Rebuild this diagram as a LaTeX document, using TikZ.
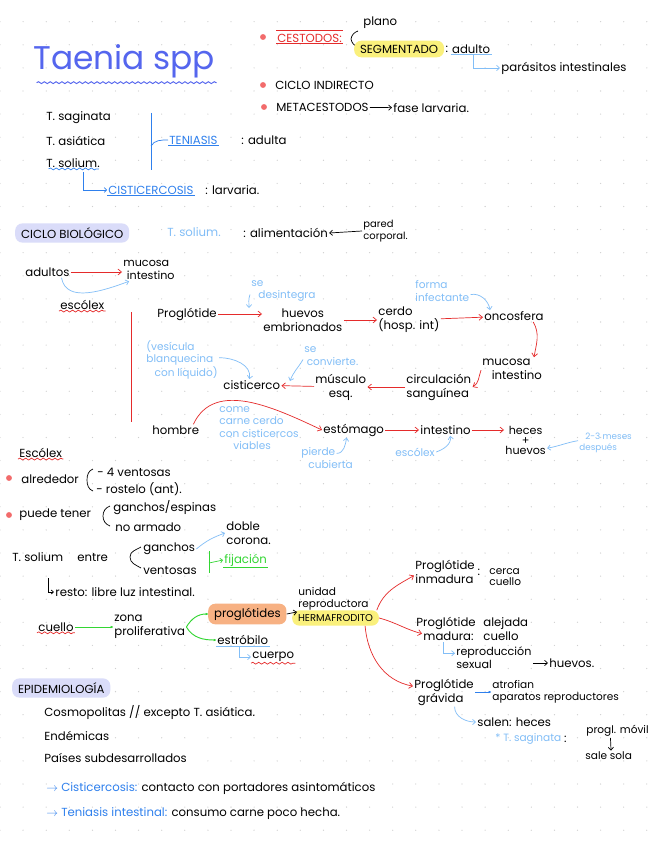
\documentclass[tikz,border=0pt]{standalone}
\usepackage{fontspec}
\setmainfont{Poppins}
\usetikzlibrary{positioning, arrows.meta, decorations.pathmorphing}
\definecolor{inkred}{HTML}{E52B2B}
\definecolor{bulletred}{HTML}{F26B6B}
\definecolor{lblue}{HTML}{82BEF7}
\definecolor{inkblue}{HTML}{2F80ED}
\definecolor{titleblue}{HTML}{5566EE}
\definecolor{inkgreen}{HTML}{33D633}
\definecolor{hlyellow}{HTML}{FAF07C}
\definecolor{hlorange}{HTML}{F7B183}
\definecolor{hllav}{HTML}{DADCF9}
\definecolor{dotgrey}{HTML}{CFCFCF}
\begin{document}
\begin{tikzpicture}[x=0.03cm, y=-0.03cm,
    tx/.style={inner sep=1pt, anchor=west, align=left, font=\fontsize{10}{12}\selectfont},
    note/.style={tx, text=lblue, font=\fontsize{9}{10.5}\selectfont},
    hl/.style={fill=#1, rounded corners=6pt, inner xsep=5pt, inner ysep=3.5pt},
    bullet/.style={circle, fill=bulletred, inner sep=0pt, minimum size=5pt},
    redarr/.style={inkred, semithick, -{Straight Barb[length=3pt, width=5pt]}},
    notearr/.style={lblue, semithick, -{Straight Barb[length=2.5pt, width=4.5pt]}},
    inkarr/.style={black, semithick, -{Straight Barb[length=2.5pt, width=4.5pt]}},
    greenarr/.style={inkgreen, thick, -{Latex[length=3pt, round]}},
    bluearr/.style={inkblue, thick, -{Latex[length=3pt, round]}},
    wavy/.style={semithick, decorate, decoration={snake, amplitude=0.8pt, segment length=5pt}}
]
    % page and dot grid
    \fill[white] (0,0) rectangle (656,848);
    \useasboundingbox (0,0) rectangle (656,848);
    \foreach \i in {0,...,28}
        \foreach \j in {0,...,36}
            \fill[dotgrey] (23.1*\i, -1.4+23.1*\j) circle (0.55pt);

    % title
    \node[tx, text=titleblue, font=\fontsize{28}{30}\selectfont] (title) at (32,61) {Taenia spp};
    \draw[titleblue, wavy, thick] ([xshift=4pt, yshift=-3pt]title.south west) -- ([yshift=-3pt]title.south east);

    % cestodos
    \node[bullet] (b1) at (263,37) {};
    \node[tx, text=inkred] (cest) at (276,38) {CESTODOS:};
    \draw[inkred, semithick] ([yshift=1.5pt]cest.north west) -- ([yshift=1.5pt]cest.north east);
    \draw[inkred, semithick] (cest.south west) -- (cest.south east);
    \draw[semithick] (358,31) to[out=200, in=80] (351,39) to[out=-80, in=160] (358,47);
    \node[tx] (plano) at (362,23) {plano};
    \node[tx, hl=hlyellow] (segm) at (354,49) {SEGMENTADO};
    \node[tx, right=0pt of segm] (adcol) {:};
    \node[tx, right=1pt of adcol] (adulto) {adulto};
    \draw[lblue, semithick] (adulto.south west) -- (adulto.south east);
    \node[tx] (paras) at (500,68) {parásitos intestinales};
    \draw[notearr] ([xshift=2pt]adulto.south) |- (paras.west);

    \node[bullet] (b2) at (263,85) {};
    \node[tx] (cind) at (274,85) {CICLO INDIRECTO};
    \node[bullet] (b3) at (264,107) {};
    \node[tx] (meta) at (275,107) {METACESTODOS};
    \node[tx] (fase) at (392,108) {fase larvaria.};
    \draw[inkarr] (meta) -- (fase);

    % species
    \node[tx] (sag) at (45,118) {T. saginata};
    \node[tx] (asi) at (45,141) {T. asiática};
    \node[tx] (sol) at (45,163) {T. solium.};
    \draw[inkblue, wavy] ([xshift=3pt]sol.south west) -- ([xshift=-2pt]sol.south east);
    \draw[inkblue, semithick] (151,113) -- (151,170);
    \coordinate (tbr) at (151,146);
    \node[tx, text=inkblue] (ten) at (168,140) {TENIASIS};
    \draw[inkblue, semithick] (ten.south west) -- (ten.south east);
    \draw[inkblue, semithick] (tbr) to[out=60, in=180] (ten.west);
    \node[tx] (tenad) at (240,140) {: adulta};
    \node[tx, text=inkblue] (cist) at (107,190) {CISTICERCOSIS};
    \draw[inkblue, semithick] (cist.south west) -- (cist.south east);
    \node[tx] (cistl) at (204,190) {: larvaria.};
    \draw[inkblue, semithick, -{Straight Barb[length=2pt, width=4pt]}] ([xshift=9pt, yshift=-3pt]sol.south) |- (cist.west);

    % ciclo biologico
    \node[tx, hl=hllav] (cbio) at (15,233) {CICLO BIOLÓGICO};
    \node[note, font=\fontsize{10}{12}\selectfont] (csol) at (166,232) {T. solium.};
    \node[tx] (alim) at (242,233) {: alimentación};
    \node[tx, font=\fontsize{8.5}{10}\selectfont] (pared) at (362,231) {pared\\corporal.};
    \draw[inkarr] (pared.west) -- (alim.east);

    \node[tx] (adultos) at (24,272) {adultos};
    \node[tx, font=\fontsize{9.5}{11.5}\selectfont] (mucint) at (122,270) {mucosa\\\hspace*{3pt}intestino};
    \draw[redarr] (adultos) -- (mucint.west |- adultos);
    \draw[notearr] ([xshift=12pt]adultos.south) to[out=-80, in=-160] ([xshift=6pt]mucint.south west);
    \node[tx] (esc1) at (59,305) {escólex};
    \draw[inkred, wavy] (esc1.south west) -- (esc1.south east);
    \coordinate (vtop) at (131,312);
    \coordinate (vbot) at (131,422);
    \draw[inkred, semithick] (vtop) -- (vbot);

    % cycle, first row
    \node[tx] (progl) at (156,314) {Proglótide};
    \node[tx, align=center] (huevos) at (262,320) {huevos\\embrionados};
    \draw[redarr] (progl.east) -- (progl.east -| huevos.west);
    \node[note] (desint) at (250,291) {se\\\hspace*{6pt}desintegra};
    \coordinate (pdes) at (249,308);
    \draw[notearr] ([yshift=-3pt]desint.west) to[out=-110, in=90] (pdes);
    \node[tx] (cerdo) at (377,320) {cerdo\\(hosp. int)};
    \draw[redarr] (huevos) -- (cerdo);
    \node[tx] (onco) at (483,316) {oncosfera};
    \draw[redarr] (cerdo) -- (onco);
    \node[note] (finf) at (414,291) {forma\\infectante};
    \draw[notearr] ([yshift=-3pt]finf.east) to[out=10, in=100] ([xshift=6pt]onco.north west);

    % cycle, second row
    \node[tx] (mucint2) at (481,369) {mucosa\\\hspace*{8pt}intestino};
    \draw[redarr] ([xshift=-10pt]onco.south east) to[out=-60, in=80] ([xshift=-8pt]mucint2.north east);
    \node[tx] (circ) at (405,387) {circulación\\sanguínea};
    \draw[redarr] ([yshift=-1pt]mucint2.west) to[out=-110, in=30] (circ.east);
    \node[tx, align=center] (musc) at (314,387) {músculo\\esq.};
    \draw[redarr] (circ) -- (musc);
    \node[tx] (cisti) at (222,385) {cisticerco};
    \draw[redarr] (musc) -- (cisti);
    \node[note] (conv) at (303,356) {se\\\hspace*{2pt}convierte.};
    \coordinate (pconv) at (290,381);
    \draw[notearr] ([yshift=-3pt]conv.west) to[out=-120, in=70] (pconv);
    \node[note] (vesic) at (145,360) {(vesícula\\blanquecina\\\hspace*{7pt}con líquido)};
    \draw[notearr] ([yshift=2pt]vesic.east) to[out=0, in=80] ([xshift=-2pt]cisti.north);

    % cycle, third row
    \node[tx] (hombre) at (151,430) {hombre};
    \node[tx] (estom) at (322,430) {estómago};
    \draw[redarr] ([xshift=-6pt]hombre.north east) to[out=65, in=155] (estom.west);
    \node[note] (come) at (218,428) {come\\carne cerdo\\con cisticercos\\\hspace*{12pt}viables};
    \node[tx] (intest) at (419,430) {intestino};
    \draw[redarr] (estom) -- (intest);
    \node[tx, align=center, font=\fontsize{9.5}{8.5}\selectfont] (heces) at (504,440) {heces\\+\\huevos};
    \draw[redarr] (intest.east) -- (intest.east -| heces.west);
    \node[note] (pierde) at (300,458) {pierde\\\hspace*{6pt}cubierta};
    \draw[notearr] ([xshift=-15pt, yshift=-6pt]pierde.north east) to[out=0, in=-100] ([xshift=-6pt]estom.south);
    \node[note] (esc2) at (394,452) {escólex};
    \draw[notearr] (esc2.east) to[out=20, in=-80] ([xshift=4pt]intest.south);
    \node[note, font=\fontsize{7.5}{9}\selectfont] (meses) at (578,443) {\hspace*{5pt}2-3 meses\\después};
    \draw[notearr] ([yshift=2pt]meses.west) to[out=190, in=10] ([yshift=-7pt]heces.east);

    % escolex
    \node[tx] (escol) at (18,453) {Escólex};
    \draw[inkred, wavy] (escol.south west) -- (escol.south east);
    \node[bullet] (b4) at (9,478) {};
    \node[tx] (alred) at (20,479) {alrededor};
    \draw[semithick] (93,469) to[out=200, in=90] (87,480) to[out=-90, in=160] (93,491);
    \node[tx] (vent4) at (96,472) {- 4 ventosas};
    \node[tx] (rost) at (95,489) {- rostelo (ant).};
    \node[bullet] (b5) at (9,515) {};
    \node[tx] (puede) at (18,515) {puede tener};
    \draw[semithick] (110,506) to[out=200, in=90] (103,516) to[out=-90, in=160] (110,526);
    \node[tx] (gesp) at (112,508) {ganchos/espinas};
    \node[tx] (noarm) at (114,527) {no armado};
    \node[tx] (tsol) at (11,557) {T. solium\hspace{12pt}entre};
    \draw[semithick] (141,547) to[out=210, in=90] (130,557) to[out=-90, in=150] (141,568);
    \node[tx] (gan) at (142,549) {ganchos};
    \node[tx] (ven) at (142,571) {ventosas};
    \node[tx] (dcor) at (225,533) {doble\\corona.};
    \draw[notearr] (gan.east) to[out=40, in=200] (dcor.west);
    \coordinate (gtop) at (209,551);
    \coordinate (gbot) at (209,573);
    \coordinate (gmid) at (209,563);
    \draw[inkgreen, semithick] (gtop) -- (gbot);
    \node[tx, text=inkgreen] (fij) at (223,560) {fijación};
    \draw[inkgreen, semithick] (fij.south west) -- (fij.south east);
    \draw[inkgreen, semithick, -{Straight Barb[length=2pt, width=4pt]}] (gmid) -- (fij.west);
    \coordinate (rtop) at (48,578);
    \node[tx] (resto) at (54,592) {resto: libre luz intestinal.};
    \draw[semithick, -{Straight Barb[length=2pt, width=3.5pt]}] (rtop) |- (resto.west);

    % cuello and proglotides
    \node[tx] (cuello) at (37,627) {cuello};
    \draw[inkred, wavy] (cuello.south west) -- (cuello.south east);
    \node[tx] (zona) at (113,627) {zona\\proliferativa};
    \draw[greenarr] (cuello) -- (zona);
    \node[tx, hl=hlorange] (progls) at (208,614) {proglótides};
    \node[tx] (estrob) at (216,640) {estróbilo};
    \draw[greenarr] (zona.east) to[out=60, in=180] (progls.west);
    \draw[greenarr] (zona.east) to[out=-60, in=180] (estrob.west);
    \draw[lblue, semithick] (estrob.south west) -- (estrob.south east);
    \node[tx] (cuerpo) at (251,657) {cuerpo};
    \draw[inkred, wavy] (cuerpo.south west) -- (cuerpo.south east);
    \draw[notearr] ([xshift=-3pt]estrob.south) |- (cuerpo.west);
    \node[tx, font=\fontsize{9}{10.5}\selectfont] (unid) at (297,599) {unidad\\reproductora};
    \node[tx, hl=hlyellow, font=\fontsize{8.5}{10}\selectfont] (herma) at (292,618) {HERMAFRODITO};
    \draw[inkarr] (progls.east) -- (unid.south west);

    % proglotide types
    \node[tx] (inmad) at (414,572) {Proglótide\\inmadura};
    \node[tx, right=0pt of inmad] (inmcol) {:};
    \node[tx, font=\fontsize{9}{10}\selectfont] (cerca) at (488,577) {cerca\\cuello};
    \draw[redarr] ([xshift=-2pt]herma.north east) to[out=70, in=-150] ([yshift=-3pt]inmad.west);
    \node[tx] (mad) at (415,629) {Proglótide\\\hspace*{6pt}madura:};
    \node[tx] (alej) at (482,629) {alejada\\cuello};
    \draw[redarr] (herma.east) to[out=-15, in=165] ([xshift=6pt, yshift=-4pt]mad.west);
    \node[tx, font=\fontsize{9.5}{11}\selectfont] (repro) at (455,658) {reproducción\\sexual};
    \draw[notearr] ([xshift=24pt]mad.south west) |- ([yshift=4pt]repro.west);
    \node[tx] (huev2) at (548,663) {huevos.};
    \draw[inkarr] (repro.east |- huev2.west) -- (huev2.west);
    \node[tx] (grav) at (413,692) {Proglótide\\\hspace*{3pt}grávida};
    \draw[redarr] ([xshift=-12pt]herma.south east) to[out=-85, in=170] ([yshift=5pt]grav.west);
    \node[tx, font=\fontsize{9}{10.5}\selectfont] (atrof) at (491,692) {atrofian\\aparatos reproductores};
    \draw[bluearr] (grav) -- (atrof);
    \node[tx] (salen) at (476,722) {salen: heces};
    \draw[notearr] ([xshift=9pt]grav.south) to[out=-90, in=180] (salen.west);
    \node[note] (tsag) at (494,739) {* T. saginata};
    \node[tx, right=0pt of tsag] (tsagc) {:};
    \node[tx, font=\fontsize{9}{10.5}\selectfont] (movil) at (585,731) {progl. móvil};
    \node[tx, font=\fontsize{9}{10.5}\selectfont] (sola) at (584,756) {sale sola};
    \draw[inkarr] ([xshift=-6pt]movil.south) -- ([xshift=2pt]sola.north);

    % epidemiologia
    \node[tx, hl=hllav] (epid) at (12,688) {EPIDEMIOLOGÍA};
    \node[tx] (cosmo) at (43,712) {Cosmopolitas // excepto T. asiática.};
    \node[tx] (endem) at (43,736) {Endémicas};
    \node[tx] (paises) at (43,758) {Países subdesarrollados};
    \node[tx] (cisc) at (45,788) {\textcolor{inkblue}{$\rightarrow$ Cisticercosis:} contacto con portadores asintomáticos};
    \node[tx] (tenc) at (45,814) {\textcolor{inkblue}{$\rightarrow$ Teniasis intestinal:} consumo carne poco hecha.};
\end{tikzpicture}
\end{document}
